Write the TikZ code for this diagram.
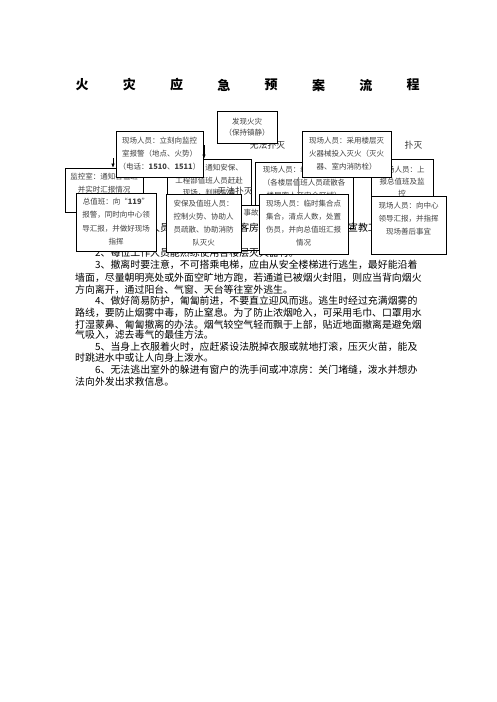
\documentclass[tikz,border=0pt]{standalone}
\usepackage{fontspec}
\setmainfont{Noto Sans CJK SC}
\usetikzlibrary{positioning,arrows.meta}
\tikzset{
  box/.style={draw, line width=0.7pt, fill=white, inner sep=0pt},
  boxtext/.style={font=\fontsize{7.5}{13.2}\selectfont, text=black!75, align=center, inner sep=0pt},
  para/.style={font=\fontsize{9.9}{11.6}\selectfont, anchor=base west, inner sep=0pt},
  branch/.style={font=\fontsize{8.8}{10}\selectfont, text=black!80, inner sep=0pt},
  title/.style={font=\fontsize{13}{15}\selectfont\bfseries, inner sep=0pt},
  arr/.style={-{Latex[length=4pt,width=3.5pt]}, line width=0.6pt},
}

\begin{document}
\begin{tikzpicture}[x=1pt,y=-1pt]
			\fill[white] (0,0) rectangle (496,702);
			\useasboundingbox (0,0) rectangle (496,702);
			% title
			\foreach \c [count=\i] in {火,灾,应,急,预,案,流,程}
				\node[title] (title\i) at ({82+47.3*(\i-1)},85) {\c};
			% branch labels
			\node[branch] (nofire) at (267.5,145) {无法扑灭};
			\node[branch] (putout) at (413.5,145) {扑灭};
			% start
			\node[box, minimum width=60pt, minimum height=32pt] (find) at (247,127) {};
			\node[boxtext, font=\fontsize{7.5}{11}\selectfont, below=7.4pt of find.north] {发现火灾\\（保持镇静）};
			% second row, behind
			\node[box, minimum width=78pt, minimum height=44pt] (monitor) at (104,190) {};
			\node[boxtext, below=5.4pt of monitor.north] {监控室：通知各值班\\并实时汇报情况};
			\node[box, minimum width=84pt, minimum height=56pt] (notify) at (209,187) {};
			\node[boxtext, font=\fontsize{7.5}{12.5}\selectfont, below=5.4pt of notify.north] {监控室：通知安保、\\工程部值班人员赶赴\\现场，判断火情};
			\node[branch] (nofire2) at (235,191) {无法扑灭};
			\node[box, minimum width=98pt, minimum height=66pt] (floors) at (304,195) {};
			\node[boxtext, font=\fontsize{7.5}{13}\selectfont, below=4.4pt of floors.north] {现场人员：组织人员疏散\\（各楼层值班人员疏散各\\楼层客人至安全区域）};
			\node[box, minimum width=62pt, minimum height=71pt] (report2) at (402,194.5) {};
			\node[boxtext, font=\fontsize{7.5}{12}\selectfont, below=7.4pt of report2.north] {现场人员：上\\报总值班及监\\控};
			\node[box, minimum width=22pt, minimum height=45pt] (accident) at (251,227.5) {};
			\node[boxtext, below=4.4pt of accident.north] {事故};
			% first actions
			\node[box, minimum width=87pt, minimum height=46pt] (report) at (159.5,154) {};
			\node[boxtext, below=6.4pt of report.north] {现场人员：立刻向监控\\室报警（地点、火势）\\（电话：\textbf{1510}、\textbf{1511}）};
			\node[box, minimum width=89pt, minimum height=46pt] (fight) at (346.5,154) {};
			\node[boxtext, font=\fontsize{7.5}{13}\selectfont, below=6.4pt of fight.north] {现场人员：采用楼层灭\\火器械投入灭火（灭火\\器、室内消防栓）};
			% connectors
			\coordinate (a1) at (113,158);
			\draw[arr] (a1) -- (a1 |- monitor.north);
			\coordinate (a2) at (204,145);
			\draw[arr] (a2) -- (a2 |- notify.north);
			\draw[gray, line width=1pt] ([xshift=-3pt]fight.south west) -- ([xshift=-3pt]fight.south west |- 0,194);
			% text behind
			\node[para] (p1) at (95,231.8) {1、每位工作人员应熟悉所在楼层客房逃生路线并做好重点宣教工作。};
			\node[para] (p2) at (95,256.8) {2、每位工作人员能熟练使用各楼层灭火器材。};
			\node[para] (p3) at (95,268.8) {3、撤离时要注意，不可搭乘电梯，应由从安全楼梯进行逃生，最好能沿着};
			\node[para] (p4) at (75,281.8) {墙面，尽量朝明亮处或外面空旷地方跑，若通道已被烟火封阻，则应当背向烟火};
			\node[para] (p5) at (75,293.8) {方向离开，通过阳台、气窗、天台等往室外逃生。};
			\node[para] (p6) at (95,304.8) {4、做好简易防护，匍匐前进，不要直立迎风而逃。逃生时经过充满烟雾的};
			\node[para] (p7) at (75,316.8) {路线，要防止烟雾中毒，防止窒息。为了防止浓烟呛入，可采用毛巾、口罩用水};
			\node[para] (p8) at (75,328.8) {打湿蒙鼻、匍匐撤离的办法。烟气较空气轻而飘于上部，贴近地面撤离是避免烟};
			\node[para] (p9) at (75,338.8) {气吸入，滤去毒气的最佳方法。};
			\node[para] (p10) at (95,350.8) {5、当身上衣服着火时，应赶紧设法脱掉衣服或就地打滚，压灭火苗，能及};
			\node[para] (p11) at (75,361.8) {时跳进水中或让人向身上泼水。};
			\node[para] (p12) at (95,373.8) {6、无法逃出室外的躲进有窗户的洗手间或冲凉房：关门堵缝，泼水并想办};
			\node[para] (p13) at (75,385.8) {法向外发出求救信息。};
			% bottom row
			\node[box, minimum width=80pt, minimum height=58pt] (chief) at (116,222) {};
			\node[boxtext, font=\fontsize{7.5}{13.3}\selectfont, below=5.4pt of chief.north] {总值班：向“\textbf{119}”\\报警，同时向中心领\\导汇报，并做好现场\\指挥};
			\node[box, minimum width=75pt, minimum height=58pt] (guard) at (203.5,223) {};
			\node[boxtext, font=\fontsize{7.5}{13}\selectfont, below=6.4pt of guard.north] {安保及值班人员：\\控制火势、协助人\\员疏散、协助消防\\队灭火};
			\node[box, minimum width=89pt, minimum height=60pt] (gather) at (303.5,224) {};
			\node[boxtext, font=\fontsize{7.5}{13}\selectfont, below=6.4pt of gather.north] {现场人员：临时集合点\\集合，清点人数，处置\\伤员，并向总值班汇报\\情况};
			\node[box, minimum width=75pt, minimum height=58pt] (after) at (408.5,225) {};
			\node[boxtext, font=\fontsize{7.5}{13}\selectfont, below=6.4pt of after.north] {现场人员：向中心\\领导汇报，并指挥\\现场善后事宜};
		\end{tikzpicture}
\end{document}
